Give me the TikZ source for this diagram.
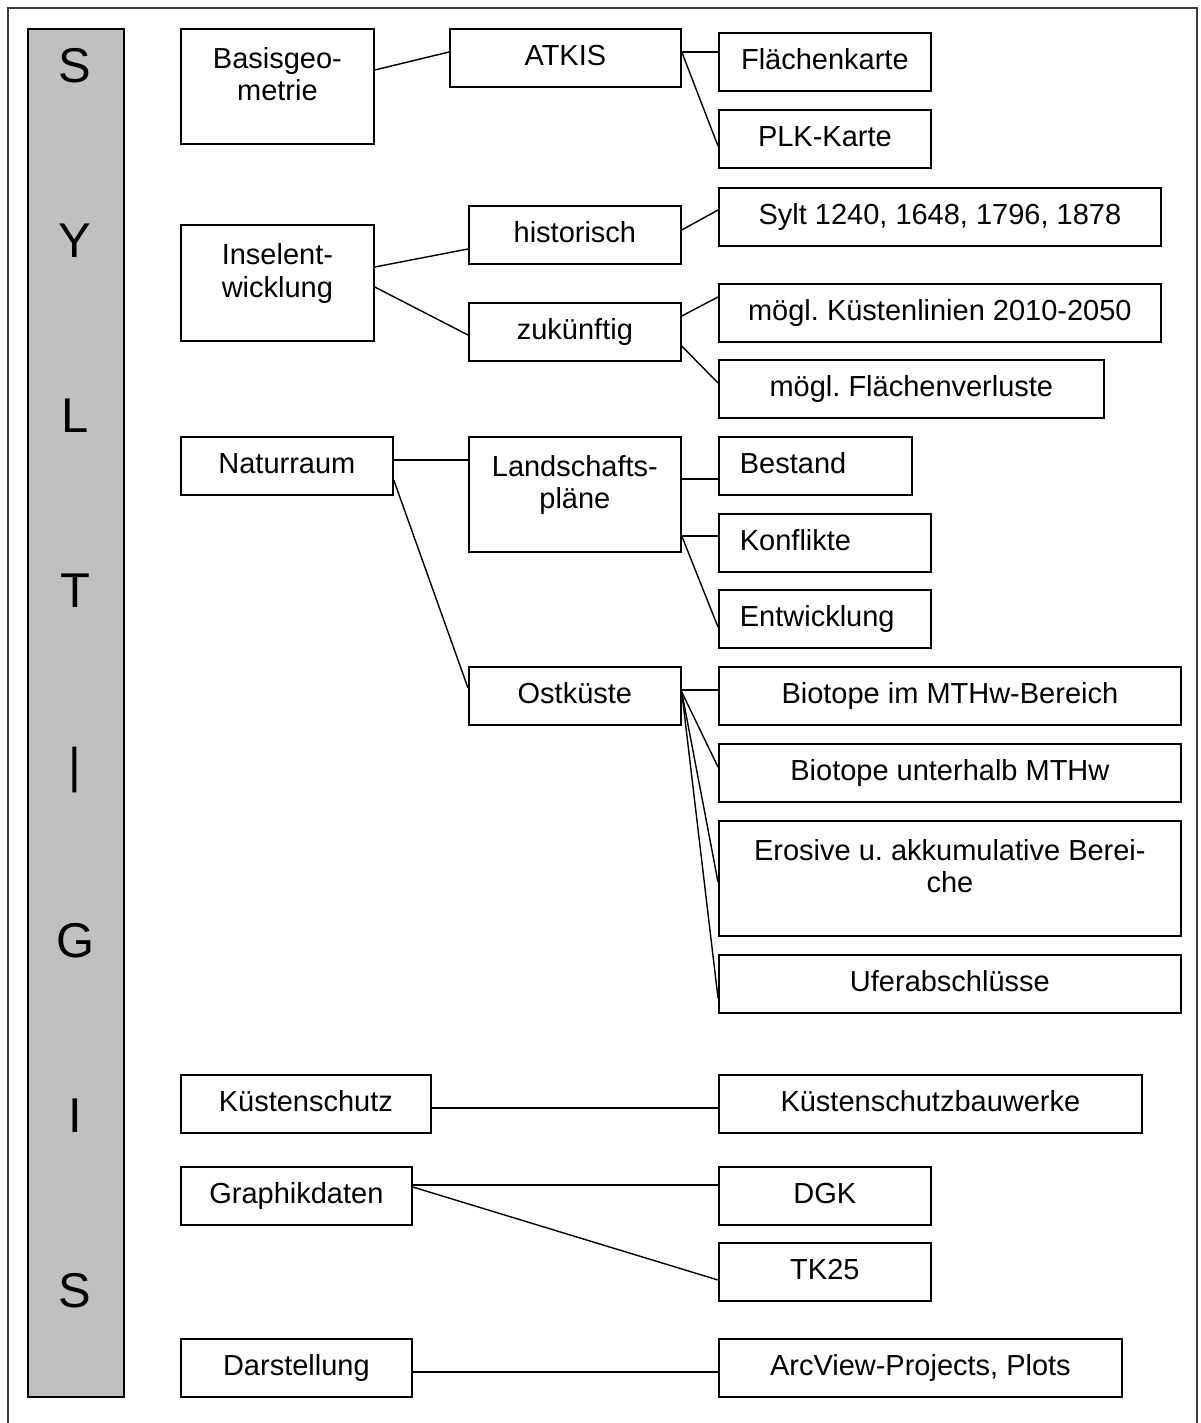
\documentclass[tikz,border=0pt]{standalone}
\usepackage{fontspec}
\setmainfont{Liberation Sans}
\usepackage{tikz}
\usetikzlibrary{calc}
\definecolor{barfill}{RGB}{192,192,192}
\definecolor{framegray}{RGB}{60,60,60}
\newcommand{\boxfont}{\fontsize{16.5}{18.7}\selectfont\frenchspacing}
\newcommand{\barfont}{\fontsize{27.8}{30}\selectfont}

\begin{document}
\begin{tikzpicture}[x=0.02cm, y=-0.02cm,
    box/.style={draw, line width=1pt, anchor=north west, inner sep=0pt,
        align=center, font=\boxfont, text height=0.74cm, text depth=0.42cm},
    wh/.style 2 args={minimum width=#1*0.02cm, minimum height=#2*0.02cm},
    tall/.style={text height=1.44cm, text depth=0.86cm},
    lbox/.style={text width=#1, align=left, inner xsep=0.42cm},
    link/.style={line width=0.8pt},
    barletter/.style={font=\barfont, inner sep=0pt, text height=0.7cm, text depth=0pt}]

\useasboundingbox (0,0) rectangle (1200,1423);

% Rahmen
\draw[line width=1pt, framegray] (8,1430) -- (8,8) -- (1197,8) -- (1197,1430);

% Leiste SYLT|GIS
\node[draw, fill=barfill, line width=1pt, anchor=north west, inner sep=0pt,
    minimum width=96*0.02cm, minimum height=1368*0.02cm] (bar) at (27,28) {};
\foreach \ch [count=\i from 0] in {S,Y,L,T,|,G,I,S}
    \node[barletter] (let\i) at (75,65+175*\i) {\ch};

% Basisgeometrie
\node[box, wh={193}{115}, tall] (basis) at (180,28) {Basisgeo-\\metrie};
\node[box, wh={231}{58}] (atkis) at (449,28) {ATKIS};
\node[box, wh={212}{58}] (flkarte) at (718,32) {Flächenkarte};
\node[box, wh={212}{58}] (plk) at (718,109) {PLK-Karte};

% Inselentwicklung
\node[box, wh={193}{116}, tall] (insel) at (180,224) {Inselent-\\wicklung};
\node[box, wh={212}{58}] (hist) at (468,205) {historisch};
\node[box, wh={212}{57}] (zukunft) at (468,302) {zukünftig};
\node[box, wh={442}{56}] (sylt) at (718,187) {Sylt 1240, 1648, 1796, 1878};
\node[box, wh={442}{57}] (kuestlin) at (718,283) {mögl. Küstenlinien 2010-2050};
\node[box, wh={385}{58}] (flverl) at (718,359) {mögl. Flächenverluste};

% Naturraum
\node[box, wh={212}{57}] (natur) at (180,436) {Naturraum};
\node[box, wh={212}{115}, tall] (lplan) at (468,436) {Landschafts-\\pläne};
\node[box, wh={193}{57}, lbox=3.02cm] (bestand) at (718,436) {Bestand};
\node[box, wh={212}{57}, lbox=3.4cm] (konflikt) at (718,513) {Konflikte};
\node[box, wh={212}{58}, lbox=3.4cm] (entw) at (718,589) {Entwicklung};
\node[box, wh={212}{57}] (ost) at (468,666) {Ostküste};
\node[box, wh={462}{57}] (biomthw) at (718,666) {Biotope im MTHw-Bereich};
\node[box, wh={462}{57}] (biounter) at (718,743) {Biotope unterhalb MTHw};
\node[box, wh={462}{115}, tall] (erosiv) at (718,820) {Erosive u. akkumulative Berei-\\che};
\node[box, wh={462}{58}] (ufer) at (718,954) {Uferabschlüsse};

% Kuestenschutz, Graphik, Darstellung
\node[box, wh={250}{58}] (kschutz) at (180,1074) {Küstenschutz};
\node[box, wh={423}{58}] (kbau) at (718,1074) {Küstenschutzbauwerke};
\node[box, wh={231}{57}] (graphik) at (180,1166) {Graphikdaten};
\node[box, wh={212}{57}] (dgk) at (718,1166) {DGK};
\node[box, wh={212}{58}] (tk) at (718,1242) {TK25};
\node[box, wh={231}{58}] (darst) at (180,1338) {Darstellung};
\node[box, wh={403}{58}] (arcview) at (718,1338) {ArcView-Projects, Plots};

% Verbindungen
\draw[link] ($(basis.north east)+(0,42)$) -- ($(atkis.north west)+(0,24)$);
\draw[link] ($(atkis.north east)+(0,24)$) -- ($(flkarte.north west)+(0,20)$);
\draw[link] ($(atkis.north east)+(0,24)$) -- ($(plk.north west)+(0,37)$);

\draw[link] ($(insel.north east)+(0,43)$) -- ($(hist.north west)+(0,44)$);
\draw[link] ($(insel.north east)+(0,63)$) -- ($(zukunft.north west)+(0,33)$);
\draw[link] ($(hist.north east)+(0,25)$) -- ($(sylt.north west)+(0,23)$);
\draw[link] ($(zukunft.north east)+(0,14)$) -- ($(kuestlin.north west)+(0,14)$);
\draw[link] ($(zukunft.north east)+(0,44)$) -- ($(flverl.north west)+(0,24)$);

\draw[link] ($(natur.north east)+(0,24)$) -- ($(lplan.north west)+(0,24)$);
\draw[link] ($(natur.north east)+(0,44)$) -- ($(ost.north west)+(0,22)$);
\draw[link] ($(lplan.north east)+(0,43)$) -- ($(bestand.north west)+(0,43)$);
\draw[link] ($(lplan.north east)+(0,100)$) -- ($(konflikt.north west)+(0,23)$);
\draw[link] ($(lplan.north east)+(0,100)$) -- ($(entw.north west)+(0,38)$);

\draw[link] ($(ost.north east)+(0,24)$) -- ($(biomthw.north west)+(0,24)$);
\draw[link] ($(ost.north east)+(0,26)$) -- ($(biounter.north west)+(0,24)$);
\draw[link] ($(ost.north east)+(0,26)$) -- ($(erosiv.north west)+(0,62)$);
\draw[link] ($(ost.north east)+(0,26)$) -- ($(ufer.north west)+(0,44)$);

\draw[link] ($(kschutz.north east)+(0,34)$) -- ($(kbau.north west)+(0,34)$);
\draw[link] ($(graphik.north east)+(0,19)$) -- ($(dgk.north west)+(0,19)$);
\draw[link] ($(graphik.north east)+(0,21)$) -- ($(tk.north west)+(0,38)$);
\draw[link] ($(darst.north east)+(0,34)$) -- ($(arcview.north west)+(0,34)$);

\end{tikzpicture}
\end{document}
